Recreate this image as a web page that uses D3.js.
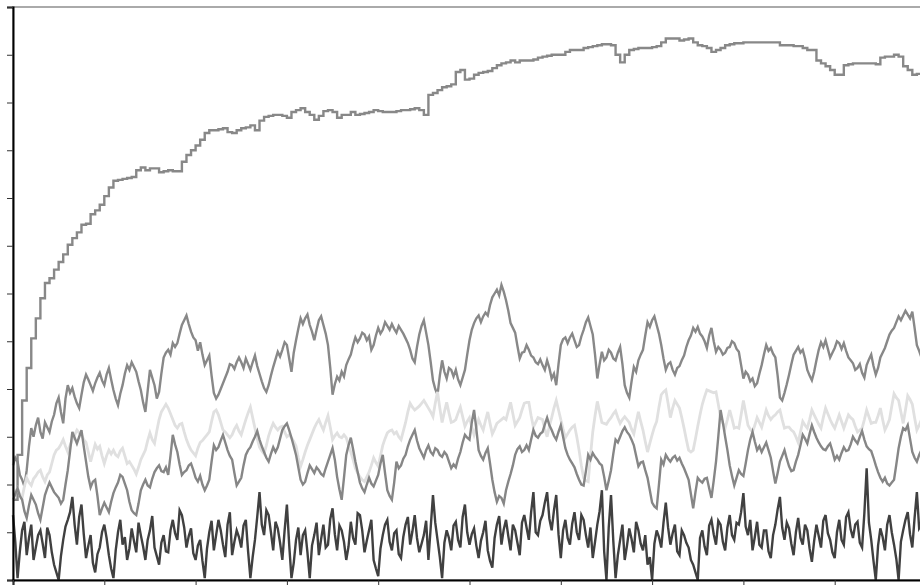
<!DOCTYPE html>
<html><head><meta charset="utf-8">
<script src="https://cdn.jsdelivr.net/npm/d3@7"></script>
<style>html,body{margin:0;padding:0;background:#fff;overflow:hidden}</style>
</head><body><svg id="chart" width="920" height="585"></svg>
<script>
// time steps (x axis) and tick values
const coarseSteps = d3.range(0, 1000, 5);
const fineSteps = d3.range(0, 1000, 2.5);
const yTicks = d3.range(0, 601, 50);
const xTicks = d3.range(0, 1001, 100);

// best-so-far (step line), sampled on coarseSteps
const bestSeries = [84,131,188,222,253,274,295,311,316,325,
333,341,351,358,364,372,373,383,387,393,
402,411,418,419,420,421,422,429,432,429,
431,431,427,428,429,428,428,438,445,450,
455,461,468,471,471,472,473,469,468,471,
473,474,476,471,481,485,486,487,487,486,
484,490,492,494,490,487,482,486,491,492,
490,484,487,487,490,487,488,489,490,492,
491,490,490,490,491,492,492,493,494,492,
487,508,510,513,516,517,519,532,534,524,
525,529,531,532,533,536,539,541,542,544,
542,544,544,544,545,547,548,549,550,550,
550,553,555,555,555,557,558,559,560,561,
561,560,550,542,550,555,556,557,557,557,
558,559,563,567,567,567,565,566,567,563,
560,559,557,553,555,557,560,561,562,562,
563,563,563,563,563,563,563,563,560,560,
560,559,559,557,555,555,544,541,538,534,
529,529,539,540,541,541,541,541,541,540,
547,548,548,550,548,538,534,529,530,532];

// upper noisy series, sampled on fineSteps
const upperSeries = [
120,128,124,110,105,98,115,140,159,150,162,170,155,148,165,160,155,166,173,185,
191,176,164,190,204,196,201,192,185,180,194,207,215,210,204,198,206,212,217,209,
204,215,222,210,199,190,183,195,204,216,225,220,228,223,218,208,199,186,176,198,
220,212,204,190,197,216,233,238,241,236,248,244,248,258,267,272,277,268,260,254,
251,240,249,236,225,230,235,214,196,190,194,200,206,212,218,226,225,221,228,233,
228,222,232,226,220,228,235,224,216,208,201,197,204,214,223,231,239,234,241,249,
246,232,218,238,251,263,274,268,274,278,267,260,251,262,272,276,267,258,246,222,
194,205,213,209,218,213,225,231,236,246,254,249,253,259,257,251,255,241,246,256,
264,258,262,270,266,262,268,263,259,266,262,258,253,248,241,232,228,244,257,266,
272,259,246,228,209,200,194,214,230,218,211,222,220,213,220,210,204,212,220,236,
251,262,269,274,277,270,276,280,277,288,296,300,304,298,309,302,293,282,269,264,
259,245,232,238,239,246,241,235,233,228,226,231,225,220,230,222,211,216,204,226,
246,252,254,248,254,258,251,244,246,255,262,270,275,266,257,236,211,226,239,230,
233,241,238,232,230,238,244,226,204,196,191,208,223,218,230,236,241,256,270,265,
272,276,267,258,246,232,220,226,228,220,215,222,224,230,235,244,251,256,264,260,
265,258,255,250,243,256,264,250,239,244,241,236,238,243,244,250,248,242,239,225,
211,218,215,208,211,203,206,216,225,236,246,240,243,237,233,214,191,188,196,205,
215,226,236,240,244,238,241,232,220,214,209,218,230,241,249,244,251,242,233,238,
243,250,248,242,248,240,233,230,227,220,222,226,217,212,225,231,236,224,215,222,
233,238,243,250,257,261,264,270,276,272,277,282,278,274,281,264,246,240,233,228];

// lower noisy series, sampled on fineSteps
const lowerSeries = [
84,90,96,88,84,72,65,78,89,84,79,70,63,76,89,96,102,97,92,89,
86,80,84,100,115,135,155,149,143,150,157,140,124,108,97,103,105,88,68,75,
81,76,71,82,91,97,102,110,108,101,94,82,73,70,68,80,94,100,105,99,
97,106,113,117,120,114,113,118,110,130,152,142,134,121,110,113,115,120,122,115,
107,103,109,100,94,99,105,124,141,136,139,146,152,144,136,130,126,112,99,103,
107,120,131,136,139,145,150,156,147,140,134,128,124,132,139,134,139,148,157,161,
164,157,149,140,131,118,105,100,103,112,120,116,112,118,115,111,109,117,124,131,
138,126,108,95,84,107,131,141,149,137,124,113,102,96,92,100,107,101,98,104,
110,122,131,112,94,88,84,102,124,117,120,127,131,140,147,152,157,146,138,133,
128,136,141,134,131,138,136,131,129,134,131,124,117,121,118,127,134,144,152,149,
147,165,178,158,136,130,126,133,138,122,105,92,82,88,86,80,94,103,111,120,
131,137,140,134,136,141,136,147,157,151,149,153,155,163,170,162,157,151,147,155,
162,150,138,131,126,122,118,111,105,100,99,114,131,126,133,129,126,122,120,108,
94,104,115,132,147,144,150,156,160,155,152,147,141,130,119,123,124,115,107,94,
81,77,75,100,126,121,131,127,124,128,130,125,128,122,117,111,105,90,75,92,
107,104,102,106,107,96,86,104,124,150,178,165,150,136,120,109,99,107,115,111,
109,122,136,147,155,145,136,140,134,139,144,136,128,114,101,112,124,130,136,127,
119,114,115,124,131,141,152,148,143,153,162,155,149,144,140,137,136,140,143,135,
126,130,126,133,139,135,136,142,150,146,143,150,156,147,140,137,135,128,120,113,
107,103,107,101,99,102,105,121,138,150,159,157,162,148,134,128,124,131,136,130];

// light series, sampled on fineSteps
const lightSeries = [
84,92,96,89,86,98,107,102,99,106,109,113,115,108,103,110,113,122,131,136,
138,142,147,140,134,141,147,152,157,154,152,147,144,134,124,133,142,137,140,130,
122,130,136,132,136,131,129,135,138,130,122,124,120,116,111,118,126,131,136,146,
154,147,143,156,168,176,180,184,180,174,168,162,159,163,164,155,147,141,136,133,
130,138,144,146,149,152,155,166,176,178,173,165,157,155,152,149,152,158,162,156,
152,160,168,175,181,170,159,148,139,135,132,141,151,158,164,160,157,160,161,155,
150,152,149,145,140,128,119,126,134,141,147,153,159,164,168,162,157,165,172,160,
147,151,154,150,149,152,149,141,134,126,117,112,108,105,103,108,113,120,128,123,
119,130,141,148,154,156,157,153,155,150,147,156,165,176,185,181,178,180,182,185,
188,184,180,176,171,185,197,180,165,176,186,175,165,166,168,175,181,171,161,166,
170,160,152,160,168,162,157,167,176,164,153,158,164,166,168,170,168,177,186,174,
162,166,170,178,185,186,186,172,160,165,170,169,168,158,150,161,170,180,188,178,
168,158,149,153,157,160,162,150,136,120,107,104,103,130,155,172,187,176,165,164,
163,167,170,174,177,170,164,168,171,168,165,158,153,165,176,166,157,145,134,143,
152,160,166,181,194,197,199,185,170,180,188,184,180,170,159,147,136,134,136,148,
161,173,184,192,199,198,197,196,197,184,170,164,159,168,178,169,159,160,159,173,
188,175,162,158,155,162,170,165,160,169,178,172,168,171,173,176,178,168,159,160,
160,157,155,150,144,155,166,162,159,168,178,173,168,163,159,170,180,174,168,163,
159,166,173,166,159,166,173,170,168,161,155,157,159,168,178,171,164,165,165,172,
180,168,157,162,168,182,195,191,188,176,164,178,193,189,184,170,157,162,168,164];

// dark bottom series, sampled on fineSteps
const darkSeries = [
68,40,2,30,52,61,26,44,58,21,34,47,52,38,23,55,47,29,16,8,
0,25,42,56,63,71,87,58,37,66,79,48,23,36,47,18,8,27,34,50,
58,44,26,12,2,31,50,63,37,45,21,33,54,41,29,60,47,35,21,42,
52,67,34,25,16,39,47,30,29,52,63,49,42,73,68,55,34,46,54,28,
21,36,42,20,2,33,50,62,31,47,63,52,37,24,58,71,26,40,52,45,
34,57,63,30,2,24,42,66,92,58,47,73,68,50,31,61,54,39,21,52,
79,37,2,18,42,55,26,47,52,29,2,36,47,60,26,43,58,34,37,64,
75,48,31,57,52,40,21,35,61,44,37,70,68,52,29,41,52,63,21,12,
4,33,47,58,63,40,31,49,52,27,23,45,58,66,37,51,68,44,29,38,
47,62,21,55,89,60,42,24,2,39,52,44,31,57,61,42,34,66,79,50,
37,48,54,36,23,41,50,62,31,20,13,44,58,67,37,53,63,46,31,58,
52,39,26,60,68,55,42,71,92,50,47,62,68,81,92,64,52,73,89,48,
23,52,63,44,37,59,71,50,42,68,63,47,34,55,23,40,58,72,94,30,
0,55,89,41,2,26,42,58,21,36,54,43,29,61,52,38,31,47,16,24,
0,38,52,45,34,60,81,55,37,49,58,30,26,52,47,39,34,21,16,8,
0,44,52,35,26,57,63,48,37,62,58,40,31,55,68,47,42,60,58,71,
91,56,47,63,31,45,61,37,34,52,52,30,23,47,58,74,87,55,42,60,
54,38,26,50,65,44,37,58,52,33,19,41,58,46,34,62,68,49,42,29,
23,50,63,42,37,66,71,53,44,58,61,39,34,70,117,60,42,20,0,36,
54,45,31,58,68,50,37,22,0,40,52,63,71,48,34,65,92,54,58,47];

const svg = d3.select("#chart");
const x = d3.scaleLinear().domain([0, 1000]).range([13, 926]);
const y = d3.scaleLinear().domain([0, 600]).range([580, 7]);

// plot frame
svg.append("rect")
  .attr("x", x(0)).attr("y", y(600))
  .attr("width", x(1000) - x(0)).attr("height", y(0) - y(600))
  .attr("fill", "none").attr("stroke", "#aaa").attr("stroke-width", 2);

const series = [
  {data: bestSeries, steps: coarseSteps, color: "#888888", curve: d3.curveStepAfter, w: 2.4},
  {data: upperSeries, steps: fineSteps, color: "#888888", curve: d3.curveLinear, w: 2.4},
  {data: lightSeries, steps: fineSteps, color: "#e0e0e0", curve: d3.curveLinear, w: 2.8},
  {data: lowerSeries, steps: fineSteps, color: "#868686", curve: d3.curveLinear, w: 2.4},
  {data: darkSeries, steps: fineSteps, color: "#404040", curve: d3.curveLinear, w: 2.4}
];

series.forEach(s => {
  const line = d3.line()
    .x((d, i) => x(s.steps[i]))
    .y(d => y(d))
    .curve(s.curve);
  svg.append("path")
    .datum(s.data)
    .attr("fill", "none")
    .attr("stroke", s.color)
    .attr("stroke-width", s.w)
    .attr("d", line);
});

const yAxis = svg.append("g")
  .attr("transform", `translate(${x(0)},0)`)
  .call(d3.axisLeft(y).tickValues(yTicks).tickSize(6).tickFormat(() => ""));
const xAxis = svg.append("g")
  .attr("transform", `translate(0,${y(0)})`)
  .call(d3.axisBottom(x).tickValues(xTicks).tickSize(5).tickFormat(() => ""));

[yAxis, xAxis].forEach(g => {
  g.selectAll("text").remove();
  g.select(".domain").attr("stroke", "#000").attr("stroke-width", 2);
  g.selectAll(".tick line").attr("stroke", "#333").attr("stroke-width", 1);
});
</script>
</body></html>
